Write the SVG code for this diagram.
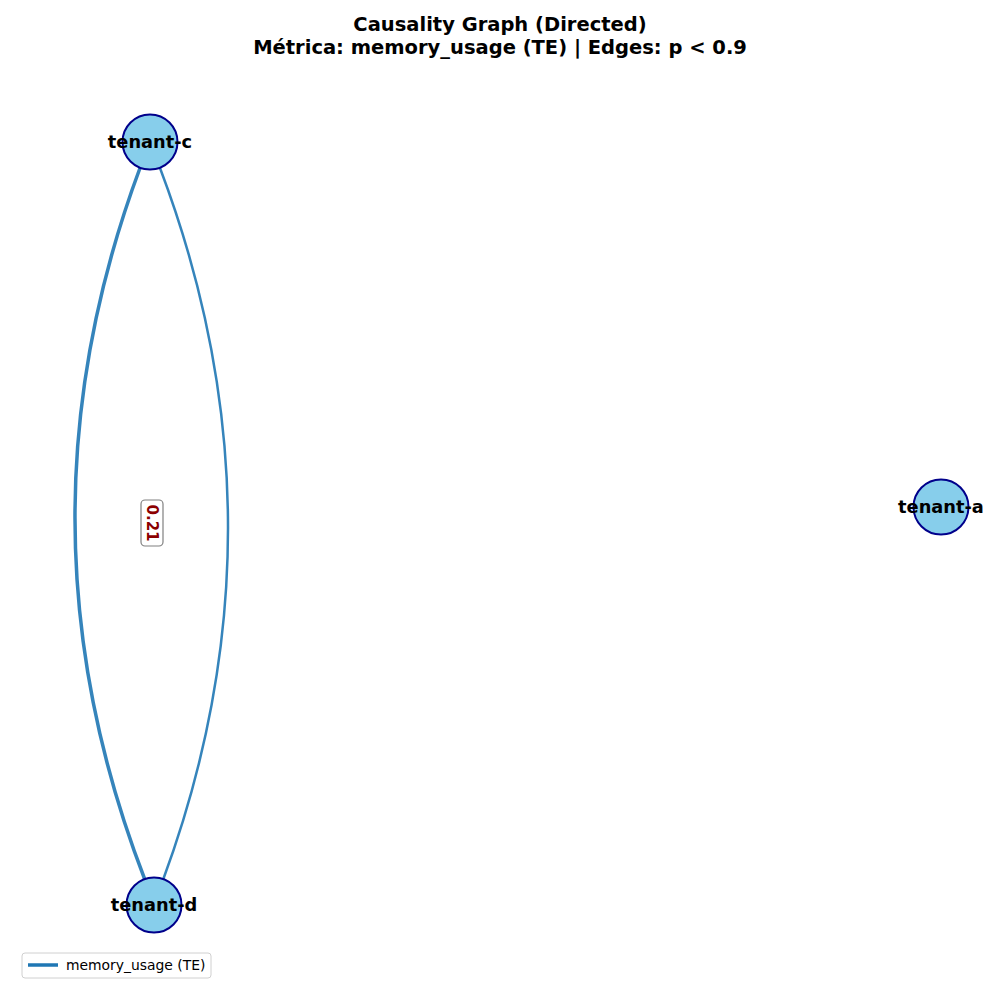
<svg xmlns="http://www.w3.org/2000/svg" width="1000" height="1000" viewBox="0 0 1000 1000">
<style>
.title{font-family:"DejaVu Sans",sans-serif;font-weight:bold;font-size:19.5px;fill:#000;text-anchor:middle}
.node circle{fill:#87ceeb;stroke:#00008b;stroke-width:2}
.node text{font-family:"DejaVu Sans",sans-serif;font-weight:bold;font-size:17.8px;fill:#000;text-anchor:middle;dominant-baseline:central}
.edge{fill:none;stroke:#1f77b4;stroke-opacity:0.9}
.elabel{font-family:"DejaVu Sans",sans-serif;font-weight:bold;font-size:15px;fill:#8b0000;text-anchor:middle;dominant-baseline:central}
.legend text{font-family:"DejaVu Sans",sans-serif;font-size:13.9px;fill:#000}
</style>
<rect width="1000" height="1000" fill="#fff"/>
<text class="title" x="500" y="31">Causality Graph (Directed)</text>
<text class="title" x="500" y="54">Métrica: memory_usage (TE) | Edges: p &lt; 0.9</text>
<g id="connectors">
<path class="edge" stroke-width="3.5" d="M140,168 Q7.5,524 145,880"/>
<path class="edge" stroke-width="2.5" d="M160,168 Q294.5,524 163,880"/>
<g id="edge-label">
<rect x="141" y="500" width="22" height="46" rx="4" fill="#fff" stroke="#808080" stroke-width="1.2"/>
<text class="elabel" transform="translate(152,523) rotate(90)">0.21</text>
</g>
</g>
<g id="node-tenant-c" class="node"><circle cx="150" cy="142" r="27.5"/><text x="150" y="141">tenant-c</text></g>
<g id="node-tenant-d" class="node"><circle cx="154" cy="905" r="27.5"/><text x="154" y="904">tenant-d</text></g>
<g id="node-tenant-a" class="node"><circle cx="941" cy="507" r="27.5"/><text x="941" y="506">tenant-a</text></g>
<g id="legend" class="legend">
<rect x="22" y="953" width="189" height="25" rx="3" fill="#fff" stroke="#d0d0d0" stroke-width="1"/>
<line x1="28" y1="965" x2="58" y2="965" stroke="#1f77b4" stroke-width="3.5"/>
<text x="66" y="970">memory_usage (TE)</text>
</g>
</svg>
